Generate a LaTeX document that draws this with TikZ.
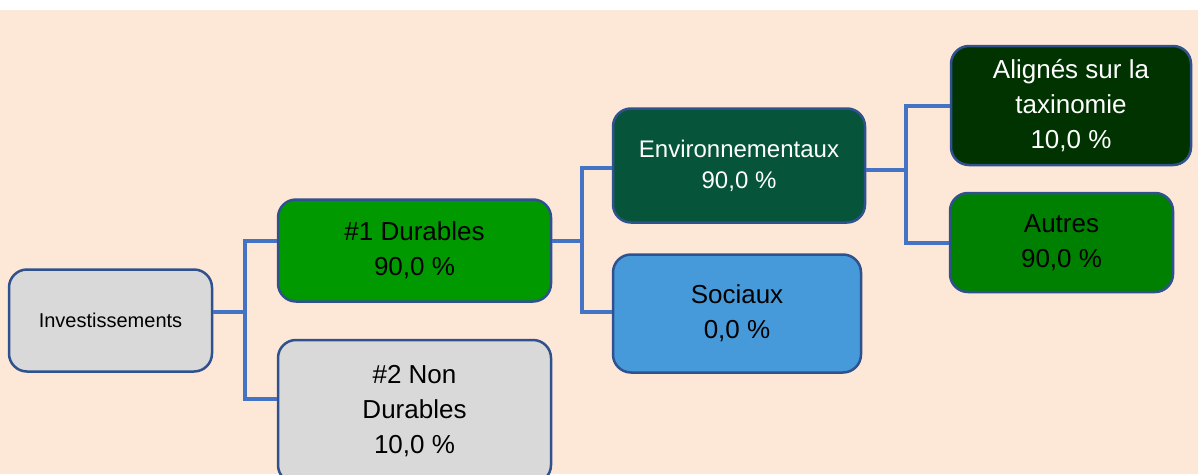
\documentclass[tikz,border=0pt]{standalone}
\usepackage{fontspec}
\setmainfont{Liberation Sans}
\definecolor{peach}{HTML}{FDE7D7}
\definecolor{bordc}{HTML}{2F528F}
\definecolor{connc}{HTML}{4472C4}
\definecolor{grayfill}{HTML}{D9D9D9}
\definecolor{durgreen}{HTML}{009900}
\definecolor{envgreen}{HTML}{06553A}
\definecolor{socblue}{HTML}{479ADA}
\definecolor{aligreen}{HTML}{003300}
\definecolor{autgreen}{HTML}{008000}
\begin{document}
\begin{tikzpicture}[x=1pt,y=-1pt,
  box/.style={draw=bordc, line width=2.5pt, rounded corners=18pt, align=center,
    inner sep=0pt, text=black, font=\fontsize{26}{35}\selectfont},
  conn/.style={draw=connc, line width=4pt}]
\useasboundingbox (0,0) rectangle (1198,474);
\fill[white] (0,0) rectangle (1198,474);
\fill[peach] (0,10) rectangle (1198,474);
\clip (0,0) rectangle (1198,474);

\node[box, fill=grayfill, minimum width=203, minimum height=102,
  font=\fontsize{20}{24}\selectfont] (inv) at (110.5,320.5) {Investissements};
\node[box, fill=durgreen, minimum width=273, minimum height=102] (d1) at (414.5,250.5) {\#1 Durables\\90,0 \%};
\node[box, fill=grayfill, minimum width=273, minimum height=143] (d2) at (414.5,411.5) {\#2 Non\\Durables\\10,0 \%};
\node[box, fill=envgreen, text=white, minimum width=252, minimum height=114,
  font=\fontsize{24}{31}\selectfont] (env) at (739,165.5) {Environnementaux\\90,0 \%};
\node[box, fill=socblue, minimum width=248, minimum height=118] (soc) at (737,313.5) {Sociaux\\0,0 \%};
\node[box, fill=aligreen, text=white, minimum width=240, minimum height=119] (ali) at (1071,105.5) {Alignés sur la\\taxinomie\\10,0 \%};
\node[box, fill=autgreen, minimum width=223, minimum height=99] (aut) at (1061.5,242.5) {Autres\\90,0 \%};

\coordinate (j1) at (245,312);
\coordinate (j1t) at (245,241);
\coordinate (j1b) at (245,399);
\coordinate (j2) at (582,241);
\coordinate (j2t) at (582,168);
\coordinate (j2b) at (582,312);
\coordinate (j3) at (906,170);
\coordinate (j3t) at (906,106);
\coordinate (j3b) at (906,243);

\draw[conn] (inv.east|-j1) -- (j1);
\draw[conn] (d1.west|-j1t) -- (j1t) -- (j1b) -- (d2.west|-j1b);
\draw[conn] (d1.east|-j2) -- (j2);
\draw[conn] (env.west|-j2t) -- (j2t) -- (j2b) -- (soc.west|-j2b);
\draw[conn] (env.east|-j3) -- (j3);
\draw[conn] (ali.west|-j3t) -- (j3t) -- (j3b) -- (aut.west|-j3b);
\end{tikzpicture}
\end{document}
